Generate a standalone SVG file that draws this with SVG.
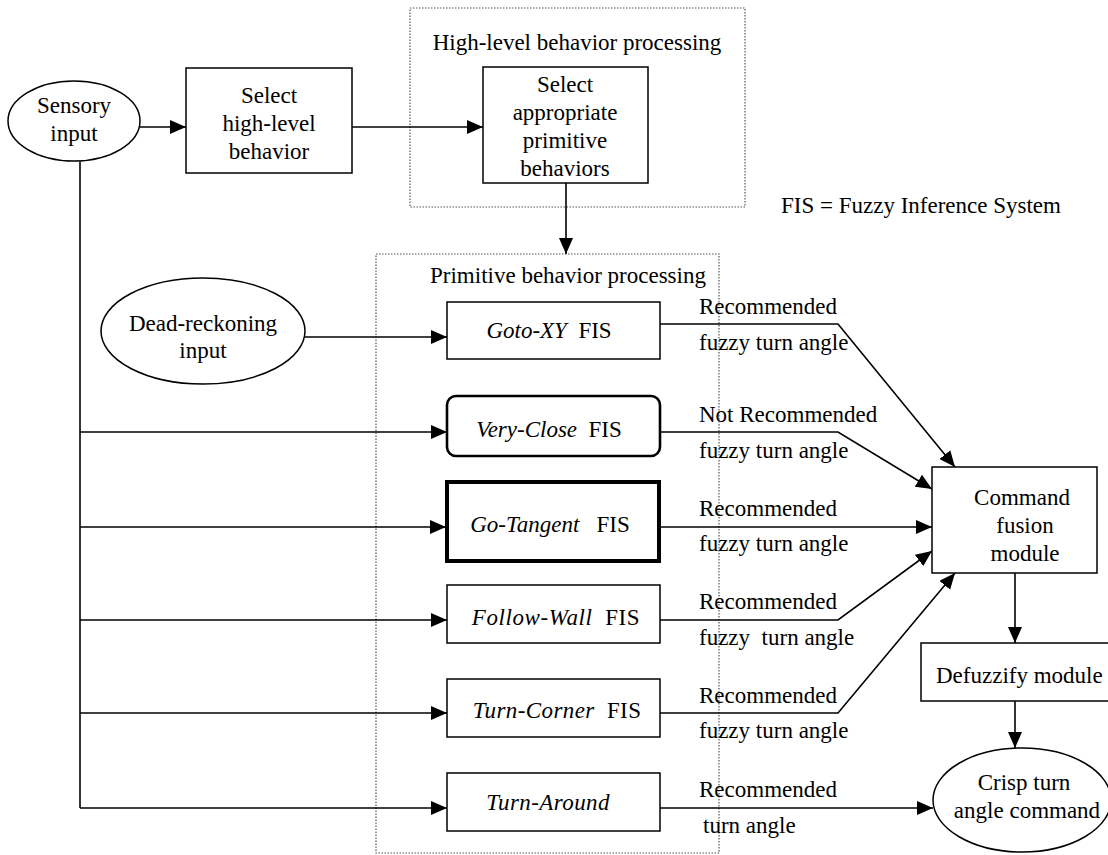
<svg xmlns="http://www.w3.org/2000/svg" width="1108" height="855" viewBox="0 0 1108 855">
<style>
text{font-family:"Liberation Serif","Times New Roman",serif;font-size:23px;fill:#000}
.c{text-anchor:middle}
.i{font-style:italic}
.box{fill:#fff;stroke:#000;stroke-width:1.5}
.dot{fill:none;stroke:#555;stroke-width:1.2;stroke-dasharray:1.5 1.5}
.ln{fill:none;stroke:#000;stroke-width:1.6}
.arr{marker-end:url(#ah)}
</style>
<defs>
<marker id="ah" markerUnits="userSpaceOnUse" markerWidth="17" markerHeight="15" refX="16" refY="7" orient="auto">
<path d="M0,0 L16,7 L0,14 z" fill="#000"/>
</marker>
</defs>
<rect width="1108" height="855" fill="#fff"/>

<g id="highlevel-group">
<rect class="dot" x="410" y="8" width="335" height="199"/>
<text class="c" x="577" y="50">High-level behavior processing</text>
</g>
<g id="primitive-group">
<rect class="dot" x="376" y="254" width="343" height="599"/>
<text class="c" x="568" y="283">Primitive behavior processing</text>
</g>

<g id="connectors">
<path class="ln arr" d="M140,127 H186"/>
<path class="ln arr" d="M352,127 H483"/>
<path class="ln arr" d="M566,183 V254"/>
<path class="ln" d="M80,162 V808"/>
<path class="ln arr" d="M80,432 H447"/>
<path class="ln arr" d="M80,527 H446"/>
<path class="ln arr" d="M80,620 H447"/>
<path class="ln arr" d="M80,713 H447"/>
<path class="ln arr" d="M80,808 H447"/>
<path class="ln arr" d="M305,337 H447"/>
<path class="ln arr" d="M660,324 H838 L955,467"/>
<path class="ln arr" d="M660,432 H838 L932,489"/>
<path class="ln arr" d="M660,527 H932"/>
<path class="ln arr" d="M660,620 H838 L932,551"/>
<path class="ln arr" d="M660,713 H838 L955,573"/>
<path class="ln arr" d="M660,808 H933"/>
<path class="ln arr" d="M1015,573 V643"/>
<path class="ln arr" d="M1015,701 V748"/>
<text x="699" y="314">Recommended</text>
<text x="699" y="350">fuzzy turn angle</text>
<text x="699" y="422">Not Recommended</text>
<text x="699" y="458">fuzzy turn angle</text>
<text x="699" y="516">Recommended</text>
<text x="699" y="551">fuzzy turn angle</text>
<text x="699" y="609">Recommended</text>
<text x="699" y="645" xml:space="preserve">fuzzy  turn angle</text>
<text x="699" y="703">Recommended</text>
<text x="699" y="738">fuzzy turn angle</text>
<text x="699" y="797">Recommended</text>
<text x="703" y="833">turn angle</text>
</g>

<g id="sensory-input">
<ellipse cx="74" cy="121" rx="66" ry="40" class="box"/>
<text class="c" x="74" y="113">Sensory</text>
<text class="c" x="74" y="141">input</text>
</g>
<g id="select-high-level">
<rect class="box" x="186" y="68" width="166" height="105"/>
<text class="c" x="269" y="103">Select</text>
<text class="c" x="269" y="131">high-level</text>
<text class="c" x="269" y="159">behavior</text>
</g>
<g id="select-primitive">
<rect class="box" x="483" y="67" width="165" height="116"/>
<text class="c" x="565" y="92">Select</text>
<text class="c" x="565" y="120">appropriate</text>
<text class="c" x="565" y="148">primitive</text>
<text class="c" x="565" y="176">behaviors</text>
</g>
<g id="legend">
<text x="781" y="213">FIS = Fuzzy Inference System</text>
</g>
<g id="dead-reckoning">
<ellipse cx="203" cy="331" rx="102" ry="53" class="box"/>
<text class="c" x="203" y="331">Dead-reckoning</text>
<text class="c" x="203" y="358">input</text>
</g>
<g id="goto-xy">
<rect class="box" x="447" y="302" width="213" height="57"/>
<text class="c" x="549" y="338" xml:space="preserve"><tspan class="i">Goto-XY</tspan>  FIS</text>
</g>
<g id="very-close">
<rect class="box" x="447" y="396" width="213" height="60" rx="9" style="stroke-width:2.6"/>
<text class="c" x="549" y="437" xml:space="preserve"><tspan class="i">Very-Close</tspan>  FIS</text>
</g>
<g id="go-tangent">
<rect class="box" x="447" y="482" width="212" height="79" style="stroke-width:4"/>
<text class="c" x="550" y="532" xml:space="preserve"><tspan class="i">Go-Tangent</tspan>   FIS</text>
</g>
<g id="follow-wall">
<rect class="box" x="447" y="585" width="213" height="58"/>
<text class="c" x="556" y="625" xml:space="preserve" letter-spacing="0.6"><tspan class="i">Follow-Wall</tspan>  FIS</text>
</g>
<g id="turn-corner">
<rect class="box" x="447" y="679" width="213" height="58"/>
<text class="c" x="557" y="718" xml:space="preserve" letter-spacing="0.4"><tspan class="i">Turn-Corner</tspan>  FIS</text>
</g>
<g id="turn-around">
<rect class="box" x="447" y="773" width="213" height="58"/>
<text class="c i" x="548" y="810" letter-spacing="0.4">Turn-Around</text>
</g>
<g id="command-fusion">
<rect class="box" x="932" y="467" width="165" height="106"/>
<text class="c" x="1022" y="505">Command</text>
<text class="c" x="1025" y="533">fusion</text>
<text class="c" x="1025" y="561">module</text>
</g>
<g id="defuzzify">
<rect class="box" x="921" y="643" width="190" height="58"/>
<text x="936" y="683">Defuzzify module</text>
</g>
<g id="crisp">
<ellipse cx="1022" cy="800" rx="89" ry="52" class="box"/>
<text class="c" x="1024" y="790">Crisp turn</text>
<text class="c" x="1027" y="818">angle command</text>
</g>
</svg>
